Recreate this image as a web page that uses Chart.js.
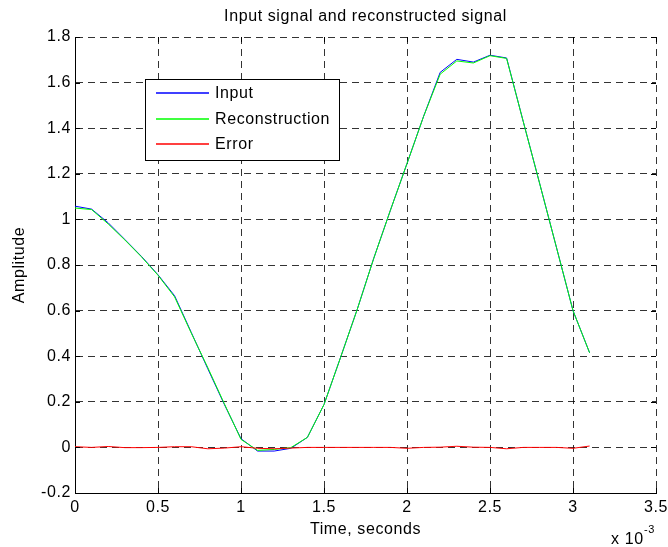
<!DOCTYPE html>
<html>
<head>
<meta charset="utf-8">
<title>Input signal and reconstructed signal</title>
<script src="https://cdn.jsdelivr.net/npm/chart.js@4.4.1/dist/chart.umd.min.js"></script>
<style>
  html, body { margin: 0; padding: 0; background: #fff; }
  canvas { display: block; }
</style>
</head>
<body>
<canvas id="signalChart" width="668" height="547"></canvas>
<script>
// Sample times in ms (axis shows x 10^-3 s)
const timeMs = [0, 0.1, 0.2, 0.3, 0.4, 0.5, 0.6, 0.7, 0.8, 0.9, 1.0, 1.1, 1.2, 1.3, 1.4, 1.5,
                1.6, 1.7, 1.8, 1.9, 2.0, 2.1, 2.2, 2.3, 2.4, 2.5, 2.6, 2.7, 2.8, 2.9, 3.0, 3.1];

const inputSignal = [1.058, 1.045, 0.985, 0.912, 0.838, 0.757, 0.665, 0.505, 0.345, 0.188, 0.038, -0.016,
                     -0.016, -0.004, 0.044, 0.188, 0.395, 0.605, 0.830, 1.040, 1.245, 1.452, 1.645, 1.702,
                     1.690, 1.720, 1.708, 1.430, 1.155, 0.878, 0.600, 0.415];

const reconstruction = [1.050, 1.043, 0.980, 0.910, 0.836, 0.755, 0.660, 0.502, 0.350, 0.191, 0.035, -0.013,
                        -0.009, -0.001, 0.044, 0.188, 0.395, 0.605, 0.830, 1.040, 1.245, 1.452, 1.637, 1.695,
                        1.686, 1.718, 1.706, 1.430, 1.155, 0.878, 0.600, 0.415];

const errorSignal = [0.003, 0.000, 0.004, -0.001, -0.001, 0.000, 0.003, 0.003, -0.006, -0.003, 0.003, -0.004,
                     -0.006, -0.003, 0.000, 0.000, 0.000, 0.000, 0.000, 0.000, -0.004, 0.000, 0.001, 0.005,
                     0.001, 0.000, -0.006, 0.000, 0.000, 0.000, -0.004, 0.006];

const xTickValues = [0, 0.5, 1, 1.5, 2, 2.5, 3, 3.5];
const xTickLabels = ['0', '0.5', '1', '1.5', '2', '2.5', '3', '3.5'];
const yTickValues = [-0.2, 0, 0.2, 0.4, 0.6, 0.8, 1, 1.2, 1.4, 1.6, 1.8];
const yTickLabels = ['-0.2', '0', '0.2', '0.4', '0.6', '0.8', '1', '1.2', '1.4', '1.6', '1.8'];

const FONT = "'Liberation Sans', Arial, sans-serif";
const SPACING = '0.6px';

// inward ticks, boxed legend and the x 10^-3 multiplier, MATLAB style
const matlabLook = {
    id: 'matlabLook',
    beforeLayout(chart) { chart.ctx.letterSpacing = SPACING; },
    beforeDraw(chart) { chart.ctx.letterSpacing = SPACING; },
    afterDraw(chart) {
        const { ctx, chartArea: a, scales: { x, y } } = chart;
        ctx.save();
        ctx.setLineDash([]);
        ctx.lineWidth = 1;
        ctx.strokeStyle = '#000';

        ctx.beginPath();
        xTickValues.forEach(v => {
            const px = Math.round(x.getPixelForValue(v)) + 0.5;
            ctx.moveTo(px, a.bottom); ctx.lineTo(px, a.bottom - 5);
            ctx.moveTo(px, a.top); ctx.lineTo(px, a.top + 5);
        });
        yTickValues.forEach(v => {
            const py = Math.round(y.getPixelForValue(v)) + 0.5;
            ctx.moveTo(a.left, py); ctx.lineTo(a.left + 5, py);
            ctx.moveTo(a.right, py); ctx.lineTo(a.right - 5, py);
        });
        ctx.stroke();

        // legend
        const lx = Math.round(a.left + 70), ly = Math.round(a.top + 42);
        ctx.fillStyle = '#fff';
        ctx.fillRect(lx, ly, 194, 81);
        ctx.strokeStyle = '#000';
        ctx.strokeRect(lx + 0.5, ly + 0.5, 194, 81);
        ctx.font = `16px ${FONT}`;
        ctx.textBaseline = 'middle';
        ctx.textAlign = 'left';
        chart.data.datasets.forEach((ds, i) => {
            const ry = Math.round(ly + 14 + i * 25.5);
            ctx.strokeStyle = ds.borderColor;
            ctx.lineWidth = 1.3;
            ctx.beginPath();
            ctx.moveTo(lx + 11, ry);
            ctx.lineTo(lx + 64, ry);
            ctx.stroke();
            ctx.fillStyle = '#000';
            ctx.fillText(ds.label, lx + 70, ry + 1);
        });

        // axis multiplier
        ctx.textBaseline = 'alphabetic';
        ctx.font = `16px ${FONT}`;
        ctx.fillText('x 10', 611, 544);
        ctx.font = `11px ${FONT}`;
        ctx.fillText('-3', 644, 533);
        ctx.restore();
    }
};

const series = values => timeMs.map((t, i) => ({ x: t, y: values[i] }));

new Chart(document.getElementById('signalChart'), {
    type: 'line',
    data: {
        datasets: [
            { label: 'Input', data: series(inputSignal), borderColor: '#0000ff', order: 2 },
            { label: 'Reconstruction', data: series(reconstruction), borderColor: '#00ff00', order: 1 },
            { label: 'Error', data: series(errorSignal), borderColor: '#ff0000', order: 0 }
        ]
    },
    options: {
        responsive: false,
        animation: false,
        events: [],
        layout: { padding: { top: 0, right: 12, bottom: 0, left: 0 } },
        elements: {
            line: { borderWidth: 1, tension: 0, fill: false },
            point: { radius: 0 }
        },
        plugins: {
            legend: { display: false },
            tooltip: { enabled: false },
            title: {
                display: true,
                text: 'Input signal and reconstructed signal',
                color: '#000',
                fullSize: false,
                font: { family: FONT, size: 16, weight: 'normal' },
                padding: { top: 7, bottom: 10.8 }
            }
        },
        scales: {
            x: {
                type: 'linear',
                min: 0,
                max: 3.5,
                afterBuildTicks: s => { s.ticks = xTickValues.map(v => ({ value: v })); },
                afterFit: s => { s.height = 54; s.paddingLeft = 0; s.paddingRight = 0; },
                ticks: {
                    color: '#000',
                    font: { family: FONT, size: 16 },
                    padding: 5,
                    maxRotation: 0,
                    callback: (v, i) => xTickLabels[i]
                },
                grid: { color: 'rgba(0,0,0,0.8)', lineWidth: 1, drawTicks: false },
                border: { display: true, color: '#000', width: 1, dash: [7, 5] },
                title: {
                    display: true,
                    text: 'Time, seconds',
                    color: '#000',
                    font: { family: FONT, size: 16 },
                    padding: { top: 0, bottom: 8 }
                }
            },
            y: {
                type: 'linear',
                min: -0.2,
                max: 1.8,
                afterBuildTicks: s => { s.ticks = yTickValues.map(v => ({ value: v })); },
                afterFit: s => { s.width = 75; s.paddingTop = 0; s.paddingBottom = 0; },
                ticks: {
                    color: '#000',
                    font: { family: FONT, size: 16 },
                    padding: 4,
                    callback: (v, i) => yTickLabels[i]
                },
                grid: { color: 'rgba(0,0,0,0.8)', lineWidth: 1, drawTicks: false },
                border: { display: true, color: '#000', width: 1, dash: [7, 5] },
                title: {
                    display: true,
                    text: 'Amplitude',
                    color: '#000',
                    font: { family: FONT, size: 16 },
                    padding: { top: 10, bottom: 0 }
                }
            }
        }
    },
    plugins: [matlabLook]
});
</script>
</body>
</html>
